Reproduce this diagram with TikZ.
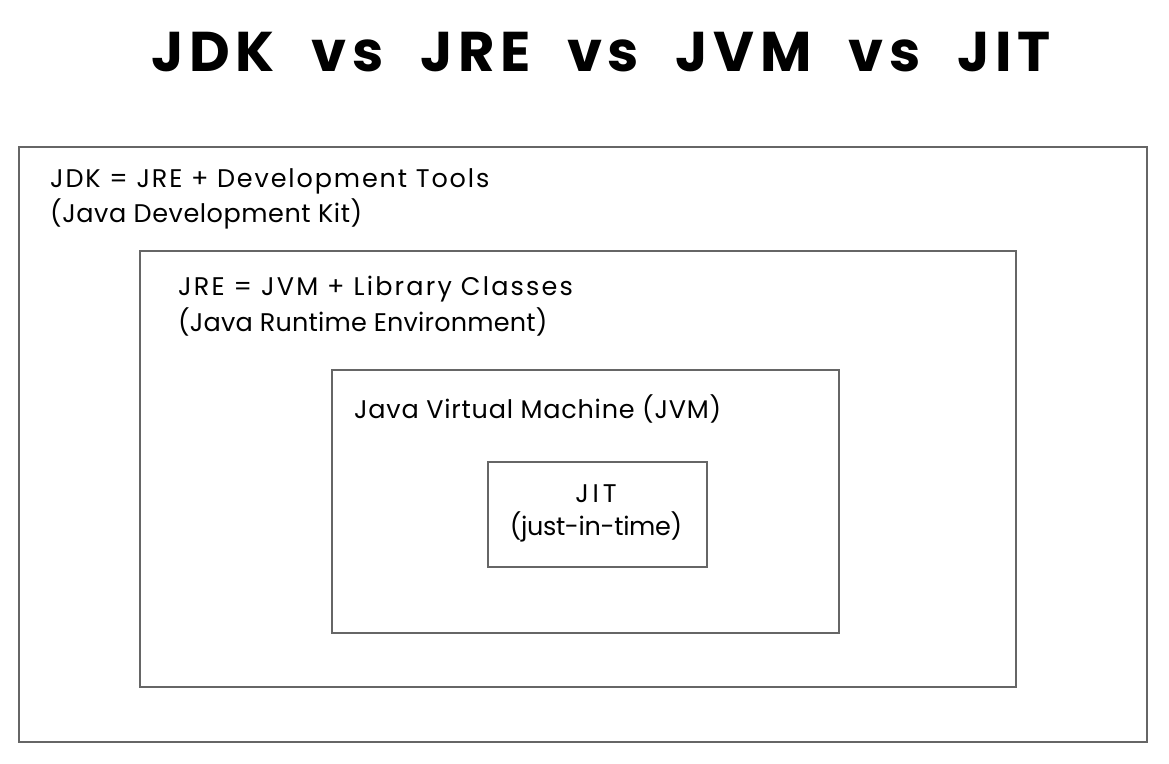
\documentclass[tikz,border=0pt]{standalone}
\usepackage{fontspec}
\setmainfont{Poppins}
\newfontfamily\ttlfont[LetterSpace=10,WordSpace=2.1]{Poppins}
\begin{document}
\begin{tikzpicture}[x=1pt,y=-1pt,
  box/.style={draw=black!60, line width=1.5pt, fill=white, anchor=north west, inner sep=0pt},
  lbl/.style={anchor=west, inner sep=0pt, font=\fontsize{25.5}{30}\selectfont\addfontfeature{LetterSpace=#1}, text=black},
  lbl/.default=4,
  ttl/.style={inner sep=0pt, font=\ttlfont\fontsize{56}{66}\selectfont\bfseries, text=black}]
\useasboundingbox[fill=white] (0,0) rectangle (1169,763);
\node[ttl] (title) at (601,52) {JDK vs JRE vs JVM vs JIT};
\node[box, minimum width=1128pt, minimum height=595pt] (jdk) at (18,146) {};
\node[box, minimum width=876pt, minimum height=436pt] (jre) at (139,250) {};
\node[box, minimum width=507pt, minimum height=263pt] (jvm) at (331,369) {};
\node[box, minimum width=219pt, minimum height=105pt] (jit) at (487,461) {};
\node[lbl=7.3] (jdk1) at (50,181) {JDK = JRE + Development Tools};
\node[lbl=2.2] (jdk2) at (50,214) {(Java Development Kit)};
\node[lbl=8.6] (jre1) at (178,289) {JRE = JVM + Library Classes};
\node[lbl=0.8] (jre2) at (178,322) {(Java Runtime Environment)};
\node[lbl=3] (jvm1) at (354,409) {Java Virtual Machine (JVM)};
\node[lbl=15, anchor=center] (jit1) at (596,494) {JIT};
\node[lbl=-1.3, anchor=center] (jit2) at (596,527) {(just-in-time)};
\end{tikzpicture}
\end{document}
